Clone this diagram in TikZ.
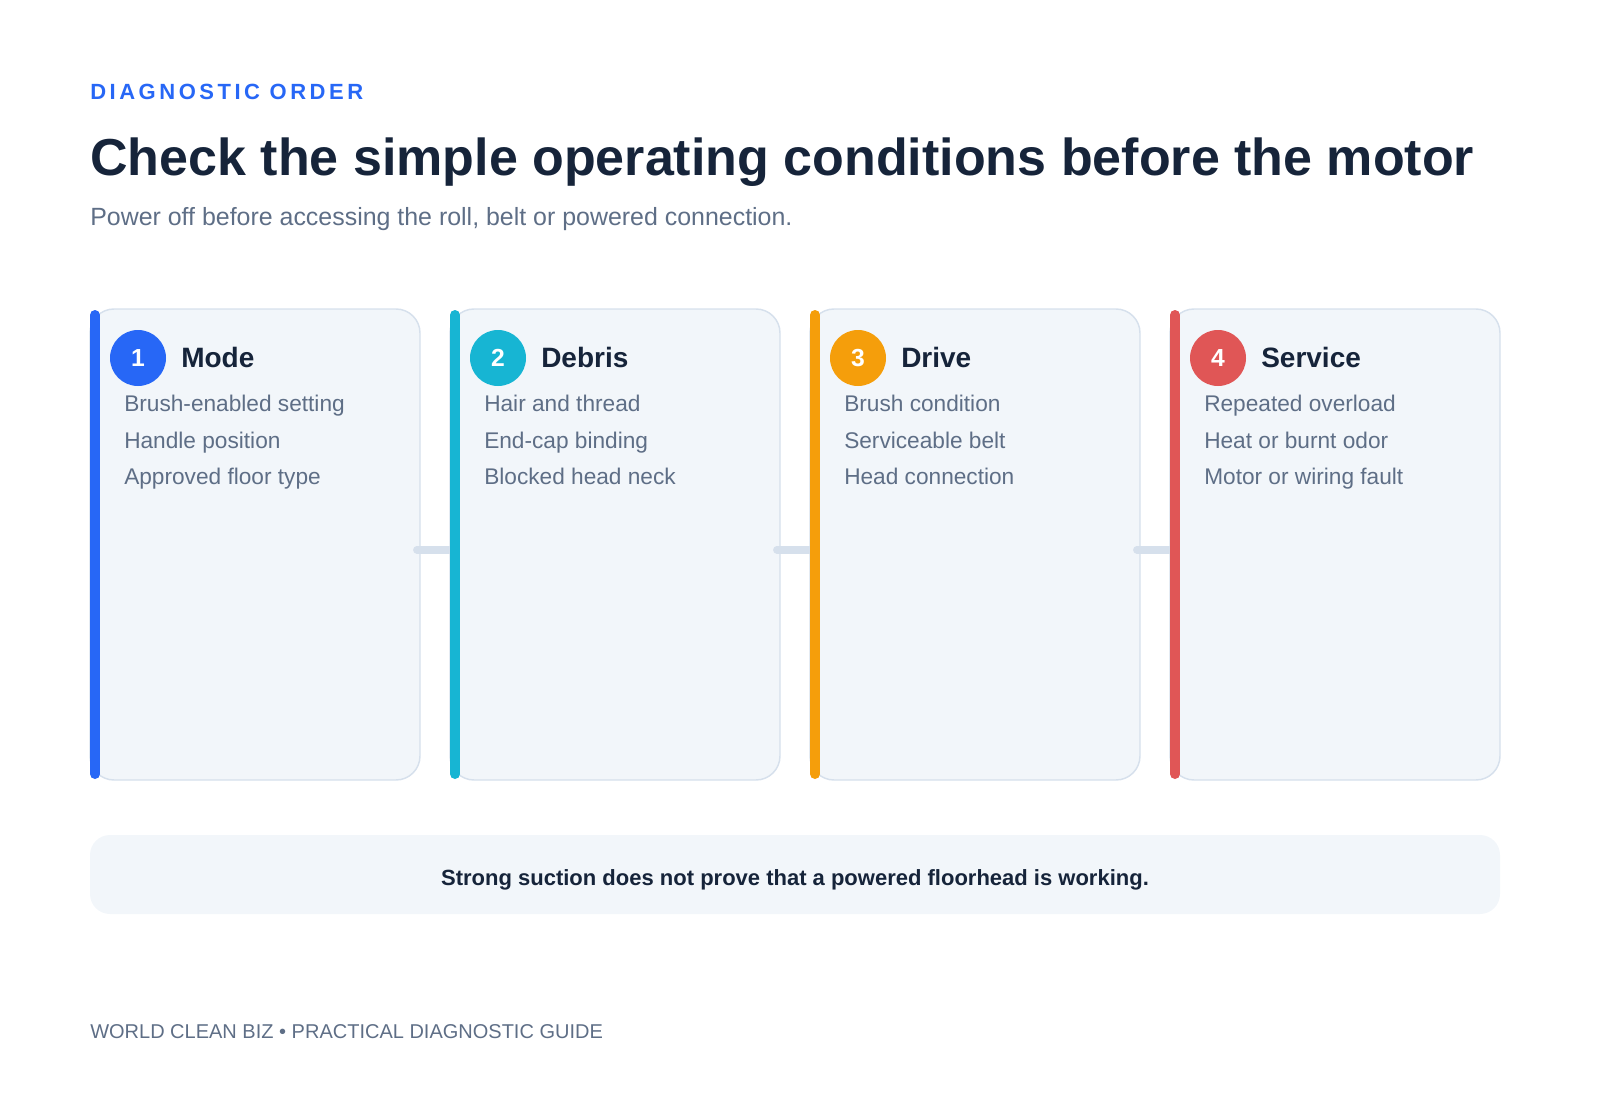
\documentclass[tikz,border=0pt]{standalone}
\usepackage{fontspec}
\setmainfont{Liberation Sans}
\newfontfamily\spacedfont[LetterSpace=16]{Liberation Sans}
\definecolor{ink}{HTML}{16243A}
\definecolor{slate}{HTML}{5E6E86}
\definecolor{cardfill}{HTML}{F2F6FA}
\definecolor{cardline}{HTML}{D6E0EC}
\definecolor{stepblue}{HTML}{2767F6}
\definecolor{stepcyan}{HTML}{17B5D3}
\definecolor{steporange}{HTML}{F59E0B}
\definecolor{stepred}{HTML}{E05656}
\tikzset{
  card/.style={draw=cardline, line width=1.1pt, fill=cardfill, rounded corners=18pt,
    minimum width=247.5pt, minimum height=353.25pt, inner sep=0pt},
  badge/.style={circle, minimum size=42pt, inner sep=0pt, text=white,
    font=\bfseries\fontsize{18.5}{20}\selectfont},
  cardtitle/.style={anchor=base west, inner sep=0pt, text=ink,
    font=\bfseries\fontsize{21}{24}\selectfont},
  item/.style={anchor=base west, inner sep=0pt, text=slate,
    font=\fontsize{17}{20}\selectfont},
  link/.style={draw=cardline, line width=5.5pt, line cap=round},
  accent/.style={line width=7.5pt, line cap=round},
}
\begin{document}
\begin{tikzpicture}[x=0.75pt,y=0.75pt,yscale=-1,xscale=1]
\useasboundingbox (0,0) rectangle (1600,1100);
% Header
\draw (90,99) node [anchor=base west] [inner sep=0pt, text=stepblue, font=\spacedfont\bfseries\fontsize{16.5}{18}\selectfont] (kicker) {DIAGNOSTIC ORDER};
\draw (90,175) node [anchor=base west] [inner sep=0pt, text=ink, font=\bfseries\fontsize{39}{44}\selectfont] (headline) {Check the simple operating conditions before the motor};
\draw (90,225) node [anchor=base west] [inner sep=0pt, text=slate, font=\fontsize{18.7}{22}\selectfont] (subline) {Power off before accessing the roll, belt or powered connection.};
% Cards
\node [card] (c1) at (255,544.5) {};
\node [card] (c2) at (615,544.5) {};
\node [card] (c3) at (975,544.5) {};
\node [card] (c4) at (1335,544.5) {};
\draw [link] ([xshift=-3pt,yshift=4pt]c1.east) -- ([yshift=4pt]c2.west);
\draw [link] ([xshift=-3pt,yshift=4pt]c2.east) -- ([yshift=4pt]c3.west);
\draw [link] ([xshift=-3pt,yshift=4pt]c3.east) -- ([yshift=4pt]c4.west);
\draw [accent, stepblue] (95,315) -- (95,774);
\draw [accent, stepcyan] (455,315) -- (455,774);
\draw [accent, steporange] (815,315) -- (815,774);
\draw [accent, stepred] (1175,315) -- (1175,774);
% Card 1
\node [badge, fill=stepblue] (b1) at (138,358) {1};
\node [cardtitle] (t1) at (181,367) {Mode};
\node [item] (i11) at (124,411) {Brush-enabled setting};
\node [item] (i12) at (124,448) {Handle position};
\node [item] (i13) at (124,484) {Approved floor type};
% Card 2
\node [badge, fill=stepcyan] (b2) at (498,358) {2};
\node [cardtitle] (t2) at (541,367) {Debris};
\node [item] (i21) at (484,411) {Hair and thread};
\node [item] (i22) at (484,448) {End-cap binding};
\node [item] (i23) at (484,484) {Blocked head neck};
% Card 3
\node [badge, fill=steporange] (b3) at (858,358) {3};
\node [cardtitle] (t3) at (901,367) {Drive};
\node [item] (i31) at (844,411) {Brush condition};
\node [item] (i32) at (844,448) {Serviceable belt};
\node [item] (i33) at (844,484) {Head connection};
% Card 4
\node [badge, fill=stepred] (b4) at (1218,358) {4};
\node [cardtitle] (t4) at (1261,367) {Service};
\node [item] (i41) at (1204,411) {Repeated overload};
\node [item] (i42) at (1204,448) {Heat or burnt odor};
\node [item] (i43) at (1204,484) {Motor or wiring fault};
% Note and footer
\node [fill=cardfill, rounded corners=15pt, minimum width=1057.5pt, minimum height=59.25pt, inner sep=0pt] (note) at (795,874.5) {};
\draw (795,885) node [anchor=base] [inner sep=0pt, text=ink, font=\bfseries\fontsize{16.5}{18}\selectfont] (notetext) {Strong suction does not prove that a powered floorhead is working.};
\draw (90,1038) node [anchor=base west] [inner sep=0pt, text=slate, font=\fontsize{15}{18}\selectfont] (footer) {WORLD CLEAN BIZ • PRACTICAL DIAGNOSTIC GUIDE};
\end{tikzpicture}
\end{document}
